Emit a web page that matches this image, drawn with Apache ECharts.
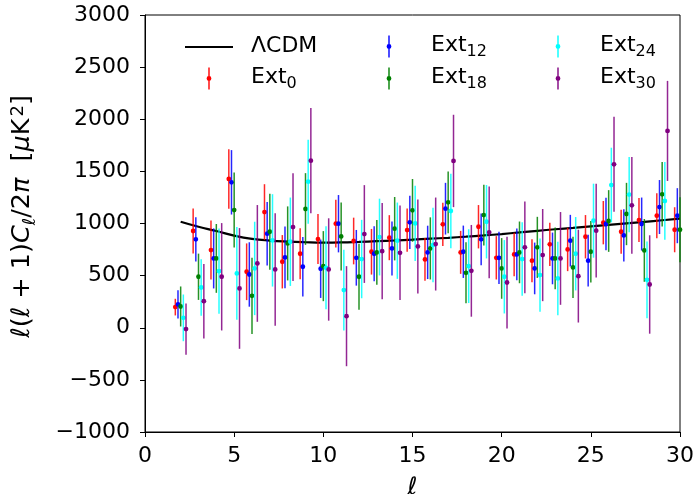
<!DOCTYPE html>
<html>
<head>
<meta charset="utf-8">
<script src="https://cdn.jsdelivr.net/npm/echarts@6/dist/echarts.min.js"></script>
<style>
html,body{margin:0;padding:0;background:#fff;}
#chart{width:697px;height:494px;}
</style>
</head>
<body>
<div id="chart"></div>
<script>
// ---- data ----
const ells = [2,3,4,5,6,7,8,9,10,11,12,13,14,15,16,17,18,19,20,21,22,23,24,25,26,27,28,29,30];
const lcdm = [1017,969,928,884,853,836,826,820,817,818,823,830,837,845,854,863,874,886,899,914,930,945,958,972,987,1002,1016,1031,1046];

const ext0Val = [198,928,745,1427,537,1110,633,710,851,998,832,729,864,937,655,992,723,969,671,703,643,800,751,873,1008,921,1033,1075,940];
const ext0Err = [80,216,283,285,272,267,256,245,240,229,224,219,216,208,205,208,206,208,208,208,206,208,208,208,208,211,211,216,216];

const ext12Val = [224,848,665,1395,511,902,675,585,566,998,671,710,761,1011,723,1142,729,848,671,703,569,665,835,643,995,886,995,1158,1075];
const ext12Err = [135,213,288,309,309,304,296,285,280,275,267,264,259,256,256,248,251,248,251,248,248,248,248,248,251,251,254,259,264];

const ext18Val = [204,489,665,1129,306,921,809,1139,591,876,489,723,950,1126,761,1203,527,1081,569,723,771,665,579,729,1024,1091,742,1280,940];
const ext18Err = [192,222,330,360,365,365,355,344,336,326,317,310,304,301,298,296,293,291,291,296,293,296,293,296,296,299,301,309,312];

const ext24Val = [95,386,543,521,569,838,825,1401,575,361,659,870,835,1001,793,1120,591,1017,489,659,505,473,710,1027,1369,1277,460,1216,null];
const ext24Err = [224,270,408,445,448,443,424,403,398,387,376,368,366,360,357,357,354,352,352,352,352,352,352,355,358,360,368,373,null];

const ext30Val = [-13,255,489,377,617,559,966,1603,559,111,899,735,719,780,803,1600,546,915,434,771,697,665,495,931,1568,1174,415,1888,null];
const ext30Err = [246,357,515,579,560,539,517,504,491,480,469,461,453,451,446,443,440,440,440,440,442,445,445,450,456,464,472,480,null];

const seriesNames = ['Ext0','Ext12','Ext18','Ext24','Ext30'];
const seriesSubs = ['0','12','18','24','30'];
const xTicks = [0,5,10,15,20,25,30];
const yTicks = [-1000,-500,0,500,1000,1500,2000,2500,3000];

// ---- build ----
const FONT = 'DejaVu Sans';
const colors = ['#ff0000','#0000ff','#008000','#00ffff','#800080'];
const offsets = [-0.3,-0.15,0,0.15,0.3];
const vals = [ext0Val,ext12Val,ext18Val,ext24Val,ext30Val];
const errs = [ext0Err,ext12Err,ext18Err,ext24Err,ext30Err];

function makeErrSeries(i){
  const data = [];
  ells.forEach((l,k)=>{
    if (vals[i][k] !== null) data.push([l+offsets[i], vals[i][k], errs[i][k]]);
  });
  const c = colors[i];
  return {
    name: seriesNames[i],
    type: 'custom',
    z: 3+i,
    itemStyle:{color:c},
    data: data,
    renderItem: function(params, api){
      const x = api.value(0), y = api.value(1), e = api.value(2);
      const p = api.coord([x,y]);
      const hi = api.coord([x,y+e]);
      const lo = api.coord([x,y-e]);
      return {type:'group', children:[
        {type:'line', shape:{x1:p[0],y1:hi[1],x2:p[0],y2:lo[1]}, style:{stroke:c,lineWidth:1.5,opacity:0.85}},
        {type:'circle', shape:{cx:p[0],cy:p[1],r:2.4}, style:{fill:c}}
      ]};
    }
  };
}

const errIcon = 'path://M2.3,0 H3.7 V22 H2.3 Z M3,8.6 A2.4,2.4 0 1 1 3,13.4 A2.4,2.4 0 1 1 3,8.6 Z';
const legendRich = {
  b:{fontFamily:FONT,fontSize:22,color:'#000',lineHeight:24,verticalAlign:'top'},
  s:{fontFamily:FONT,fontSize:16,color:'#000',lineHeight:16,padding:[11,0,0,0]}
};
function mkLegend(name, icon, left, top, iw, ih){
  return {
    data:[{name:name, icon:icon}],
    left:left, top:top, padding:0,
    itemWidth:iw, itemHeight:ih,
    symbolKeepAspect:true,
    selectedMode:false,
    textStyle:{fontFamily:FONT,fontSize:22,color:'#000',padding:[0,0,0,13],rich:legendRich},
    formatter:function(n){
      const idx = seriesNames.indexOf(n);
      if (idx < 0) return '{b|' + n + '}';
      return '{b|Ext}{s|' + seriesSubs[idx] + '}';
    }
  };
}

const legends = [
  mkLegend('ΛCDM','rect',185,35,48,2),
  mkLegend('Ext0',errIcon,206.6,65,48,22),
  mkLegend('Ext12',errIcon,386.6,33,48,22),
  mkLegend('Ext18',errIcon,386.6,65,48,22),
  mkLegend('Ext24',errIcon,555.6,33,48,22),
  mkLegend('Ext30',errIcon,555.6,65,48,22)
];

const series = [{
  name:'ΛCDM', type:'line', smooth:true, showSymbol:false, z:2,
  data: ells.map((l,k)=>[l,lcdm[k]]),
  lineStyle:{color:'#000',width:2.2},
  itemStyle:{color:'#000'}
}];
for (let i=0;i<5;i++) series.push(makeErrSeries(i));

const chart = echarts.init(document.getElementById('chart'), null, {renderer:'canvas'});
chart.setOption({
  animation:false,
  backgroundColor:'#fff',
  grid:{left:145,right:17,top:15,bottom:62,containLabel:false,outerBoundsMode:'none',
        show:true,borderColor:'#000',borderWidth:1,backgroundColor:'transparent'},
  legend: legends,
  xAxis:{
    type:'value', min:xTicks[0], max:xTicks[xTicks.length-1], interval:5,
    name:'ℓ', nameLocation:'middle', nameGap:44,
    nameTextStyle:{fontFamily:FONT,fontSize:24,fontStyle:'italic',color:'#000'},
    axisLine:{show:true,onZero:false,lineStyle:{color:'#000',width:1}},
    axisTick:{show:true,length:5,lineStyle:{color:'#000',width:1}},
    axisLabel:{fontFamily:FONT,fontSize:22,color:'#000',margin:13},
    splitLine:{show:false}
  },
  yAxis:{
    type:'value', min:yTicks[0], max:yTicks[yTicks.length-1], interval:500,
    name:'{i|ℓ}{n|(}{i|ℓ}{n| + 1)}{i|C}{s|ℓ}{n|/2}{i|π}{n|  [}{i|μ}{n|K}{p|2}{n|]}',
    nameLocation:'middle', nameGap:107, nameRotate:90,
    nameTextStyle:{fontFamily:FONT,fontSize:25.5,color:'#000',padding:[0,0,0,14],rich:{
      i:{fontFamily:FONT,fontSize:25.5,fontStyle:'italic',color:'#000',lineHeight:29,verticalAlign:'top'},
      n:{fontFamily:FONT,fontSize:25.5,color:'#000',lineHeight:29,verticalAlign:'top'},
      s:{fontFamily:FONT,fontSize:18,fontStyle:'italic',color:'#000',lineHeight:18,padding:[14,0,0,0]},
      p:{fontFamily:FONT,fontSize:18,color:'#000',lineHeight:18,verticalAlign:'top',padding:[0,0,0,2]}
    }},
    axisLine:{show:true,onZero:false,lineStyle:{color:'#000',width:1}},
    axisTick:{show:true,length:5,lineStyle:{color:'#000',width:1}},
    axisLabel:{fontFamily:FONT,fontSize:22,color:'#000',margin:15,
      formatter:function(v){return String(v).replace('-','\u2212');}},
    splitLine:{show:false}
  },
  series: series
});
</script>
</body>
</html>
